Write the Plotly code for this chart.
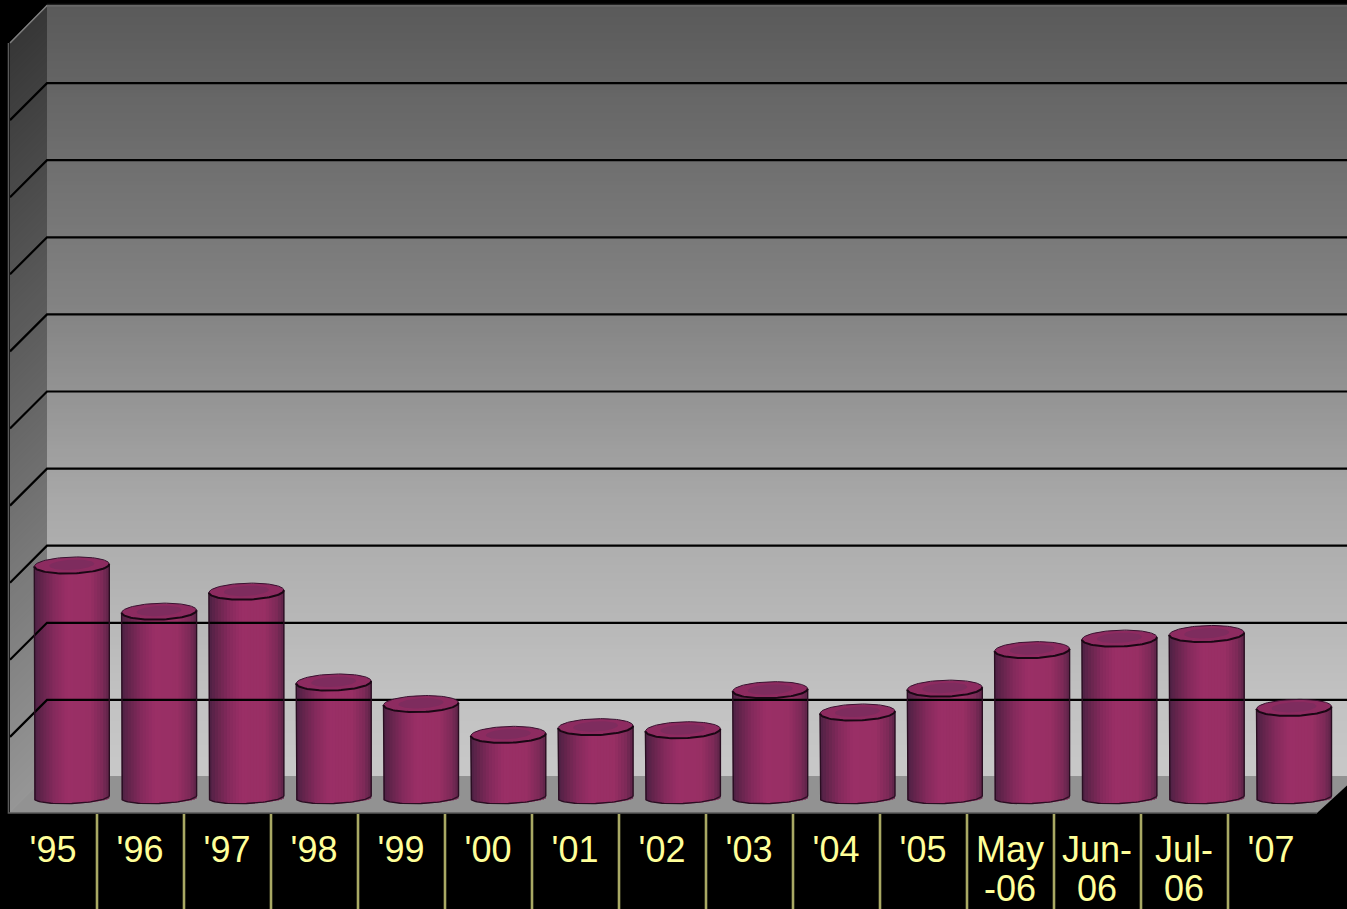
import math
import plotly.graph_objects as go

# ---- data ----
first_line = ["'95", "'96", "'97", "'98", "'99", "'00", "'01", "'02", "'03", "'04", "'05", "May", "Jun-", "Jul-", "'07"]
second_line = ["", "", "", "", "", "", "", "", "", "", "", "-06", "06", "06", ""]
values = [301, 241, 267, 149, 121, 81, 91, 87, 139, 110, 141, 191, 206, 212, 116]
grid_values = [100, 200, 300, 400, 500, 600, 700, 800, 900]

# ---- geometry of the 3D frame, in pixels of the 1347x909 page ----
W, H, PLOT_B = 1347, 909, 813
X0_PX, DX_PX = 71.8, 87.3       # centre of first bar, bar spacing
BASE_PX, PX_PER_100 = 797.0, 77.0
GRID_ZERO_PX, GRID_STEP = 777.0, 77.1
BACK_ZERO_PX = 776.0
DEPTH = 37.0
WALL_X = 47.0
WALL_L = 10.0
LABEL_X0, LABEL_DX = 53.0, 87.0
SEP_X0 = 97.0
BAR_HW = 37.5


def dx(px):
    return (px - X0_PX) / DX_PX


def dy(py):
    return (BASE_PX - py) * 100.0 / PX_PER_100


def py_of(v):
    return BASE_PX - v * PX_PER_100 / 100.0


def lerp_colour(stops, t):
    for (a, ca), (b, cb) in zip(stops, stops[1:]):
        if t <= b:
            f = (t - a) / (b - a)
            return "#%02x%02x%02x" % tuple(round(p + (q - p) * f) for p, q in zip(ca, cb))
    return "#%02x%02x%02x" % tuple(stops[-1][1])


def poly(points):
    return "M" + "L".join(f"{dx(x):.5f},{dy(y):.4f}" for x, y in points) + "Z"


def grey(v):
    return (v, v, v)


shapes = []
BACK_TOP, BACK_BOT = 5.0, BACK_ZERO_PX
back_stops = [(0.0, grey(90)), (0.39, grey(131)), (0.64, grey(168)), (0.90, grey(194)), (1.0, grey(200))]
side_stops = [(0.0, grey(55)), (1.0, grey(150))]
STEP = 4.0
y = BACK_TOP
while y < BACK_BOT:
    t = (y - BACK_TOP) / (BACK_BOT - BACK_TOP)
    # each band runs on to the wall foot, so that the next one paints over it with no seam
    shapes.append(dict(type="path", path=poly([(WALL_X, y), (W + 5, y), (W + 5, BACK_BOT), (WALL_X, BACK_BOT)]),
                       xref="x", yref="y", fillcolor=lerp_colour(back_stops, t), line_width=0, layer="below"))
    shapes.append(dict(type="path", path=poly([(WALL_L, y + DEPTH), (WALL_X, y), (WALL_X, BACK_BOT), (WALL_L, BACK_BOT + DEPTH)]),
                       xref="x", yref="y", fillcolor=lerp_colour(side_stops, t), line_width=0, layer="below"))
    y += STEP
shapes.append(dict(type="path",
                   path=poly([(WALL_L, PLOT_B), (WALL_X, BACK_BOT), (W + 5, BACK_BOT), (W + 5, 781), (1317, PLOT_B)]),
                   xref="x", yref="y", fillcolor="#929292", line_width=0, layer="below"))

fig = go.Figure()

# gridlines on the back wall and side wall
gx, gy = [], []
for v in grid_values:
    p = GRID_ZERO_PX - v * GRID_STEP / 100.0
    gx += [dx(WALL_L), dx(WALL_X), dx(W + 5), None]
    gy += [dy(p + DEPTH), dy(p), dy(p), None]
fig.add_trace(go.Scatter(x=gx, y=gy, mode="lines", line=dict(color="#000000", width=2.2), hoverinfo="skip"))
# frame edges
fig.add_trace(go.Scatter(x=[dx(WALL_L), dx(WALL_X), dx(W + 5)], y=[dy(43), dy(5.5), dy(5.5)], mode="lines",
                         line=dict(color="#808080", width=1.4), hoverinfo="skip"))
fig.add_trace(go.Scatter(x=[dx(WALL_X), dx(W + 5)], y=[dy(4.5), dy(4.5)], mode="lines",
                         line=dict(color="#222222", width=1.4), hoverinfo="skip"))
fig.add_trace(go.Scatter(x=[dx(8.5), dx(8.5), dx(1317)], y=[dy(43), dy(813), dy(813)], mode="lines",
                         line=dict(color="#5a5a5a", width=1.6), hoverinfo="skip"))

# cylinder bodies: vertical stripes of shading on a bar trace
shade = [(0.0, (78, 34, 68)), (0.10, (100, 36, 76)), (0.26, (132, 42, 92)), (0.44, (154, 47, 102)),
         (0.74, (152, 47, 100)), (0.90, (126, 42, 88)), (1.0, (92, 36, 72))]
N = 25
BOT_B, BOT_TILT, TOP_B, TOP_TILT = 6.5, 1.5, 8.2, 1.2
bx, by, bbase, bcol, bw = [], [], [], [], []
for i, v in enumerate(values):
    for k in range(N):
        u_left = k / N * 2 - 1
        u_right = min(u_left + 2.4 / N * 2, 1.0)
        u = (k + 0.5) / N * 2 - 1
        low = BOT_B * math.sqrt(1 - u * u) - BOT_TILT * u
        up = -TOP_TILT * u
        bx.append(i + (u_left + u_right) / 2 * BAR_HW / DX_PX)
        bbase.append(dy(BASE_PX + low))
        by.append(dy(py_of(v) + up) - dy(BASE_PX + low))
        bcol.append(lerp_colour(shade, (u + 1) / 2))
        bw.append((u_right - u_left) * BAR_HW / DX_PX)
fig.add_trace(go.Bar(x=bx, y=by, base=bbase, width=bw, marker=dict(color=bcol, line_width=0), hoverinfo="skip"))

# outlines and cylinder tops
ox, oy, ex, ey, ix, iy, fx, fy, rx, ry = [], [], [], [], [], [], [], [], [], []
M = 48
for i, v in enumerate(values):
    c = X0_PX + i * DX_PX
    top = py_of(v)
    ox.append(dx(c - BAR_HW)); oy.append(dy(top + TOP_TILT))
    for j in range(M + 1):
        t = math.pi - j / M * math.pi
        ox.append(dx(c + BAR_HW * math.cos(t)))
        oy.append(dy(BASE_PX + BOT_B * math.sin(t) - BOT_TILT * math.cos(t)))
    ox.append(dx(c + BAR_HW)); oy.append(dy(top - TOP_TILT))
    ox.append(None); oy.append(None)
    for j in range(2 * M + 1):
        t = j / M * math.pi
        ex.append(dx(c + BAR_HW * math.cos(t)))
        ey.append(dy(top + TOP_B * math.sin(t) - TOP_TILT * math.cos(t)))
        ix.append(dx(c + 0.6 * BAR_HW * math.cos(t)))
        iy.append(dy(top + 0.62 * TOP_B * math.sin(t) - TOP_TILT * math.cos(t) - 0.5))
    ex.append(None); ey.append(None); ix.append(None); iy.append(None)
    for j in range(M + 1):
        t = j / M * math.pi
        fx.append(dx(c + BAR_HW * math.cos(t)))
        fy.append(dy(top + TOP_B * math.sin(t) - TOP_TILT * math.cos(t)))
        rx.append(dx(c + BAR_HW * math.cos(t)))
        ry.append(dy(top - TOP_B * math.sin(t) - TOP_TILT * math.cos(t)))
    fx.append(None); fy.append(None); rx.append(None); ry.append(None)
fig.add_trace(go.Scatter(x=ox, y=oy, mode="lines", line=dict(color="#2a0e22", width=1.4), hoverinfo="skip"))
fig.add_trace(go.Scatter(x=ex, y=ey, mode="lines", fill="toself", fillcolor="#8d2b60", line=dict(width=0), hoverinfo="skip"))
fig.add_trace(go.Scatter(x=ix, y=iy, mode="lines", fill="toself", fillcolor="#7e2c5e", line=dict(width=0), hoverinfo="skip"))
fig.add_trace(go.Scatter(x=rx, y=ry, mode="lines", line=dict(color="#3a1230", width=1.0), hoverinfo="skip"))
fig.add_trace(go.Scatter(x=fx, y=fy, mode="lines", line=dict(color="#1a0714", width=2.0), hoverinfo="skip"))

# separators under the axis
sx, sy = [], []
for k in range(14):
    p = dx(SEP_X0 + k * LABEL_DX)
    sx += [p, p, None]
    sy += [dy(PLOT_B + 1), dy(H), None]
fig.add_trace(go.Scatter(x=sx, y=sy, mode="lines", line=dict(color="#a9a964", width=2.6), hoverinfo="skip"))

# second line of wrapped labels
tick_pos = [dx(LABEL_X0 + i * LABEL_DX) for i in range(len(first_line))]
tx = [p for p, s in zip(tick_pos, second_line) if s]
ts = [s for s in second_line if s]
fig.add_trace(go.Scatter(x=tx, y=[dy(891.5)] * len(tx), mode="text", text=ts,
                         textposition="middle center",
                         textfont=dict(family="Liberation Sans", size=36, color="#ffff99"), hoverinfo="skip"))

fig.update_layout(
    width=W, height=H, margin=dict(l=0, r=0, t=0, b=0, pad=0),
    paper_bgcolor="#000000", plot_bgcolor="#000000", showlegend=False, barmode="overlay",
    shapes=shapes,
    xaxis=dict(range=[dx(0), dx(W)], tickmode="array", tickvals=tick_pos, ticktext=first_line,
               anchor="free", position=(H - PLOT_B) / H,
               ticks="", showgrid=False, zeroline=False, showline=False,
               ticklabelstandoff=12, tickangle=0,
               tickfont=dict(family="Liberation Sans", size=36, color="#ffff99")),
    yaxis=dict(range=[dy(H), dy(0)], showgrid=False, zeroline=False, showline=False,
               showticklabels=False, ticks=""),
)
fig.write_html("out.html", config={"displayModeBar": False},
               post_script="document.body.style.margin='0';document.body.style.overflow='hidden';")
